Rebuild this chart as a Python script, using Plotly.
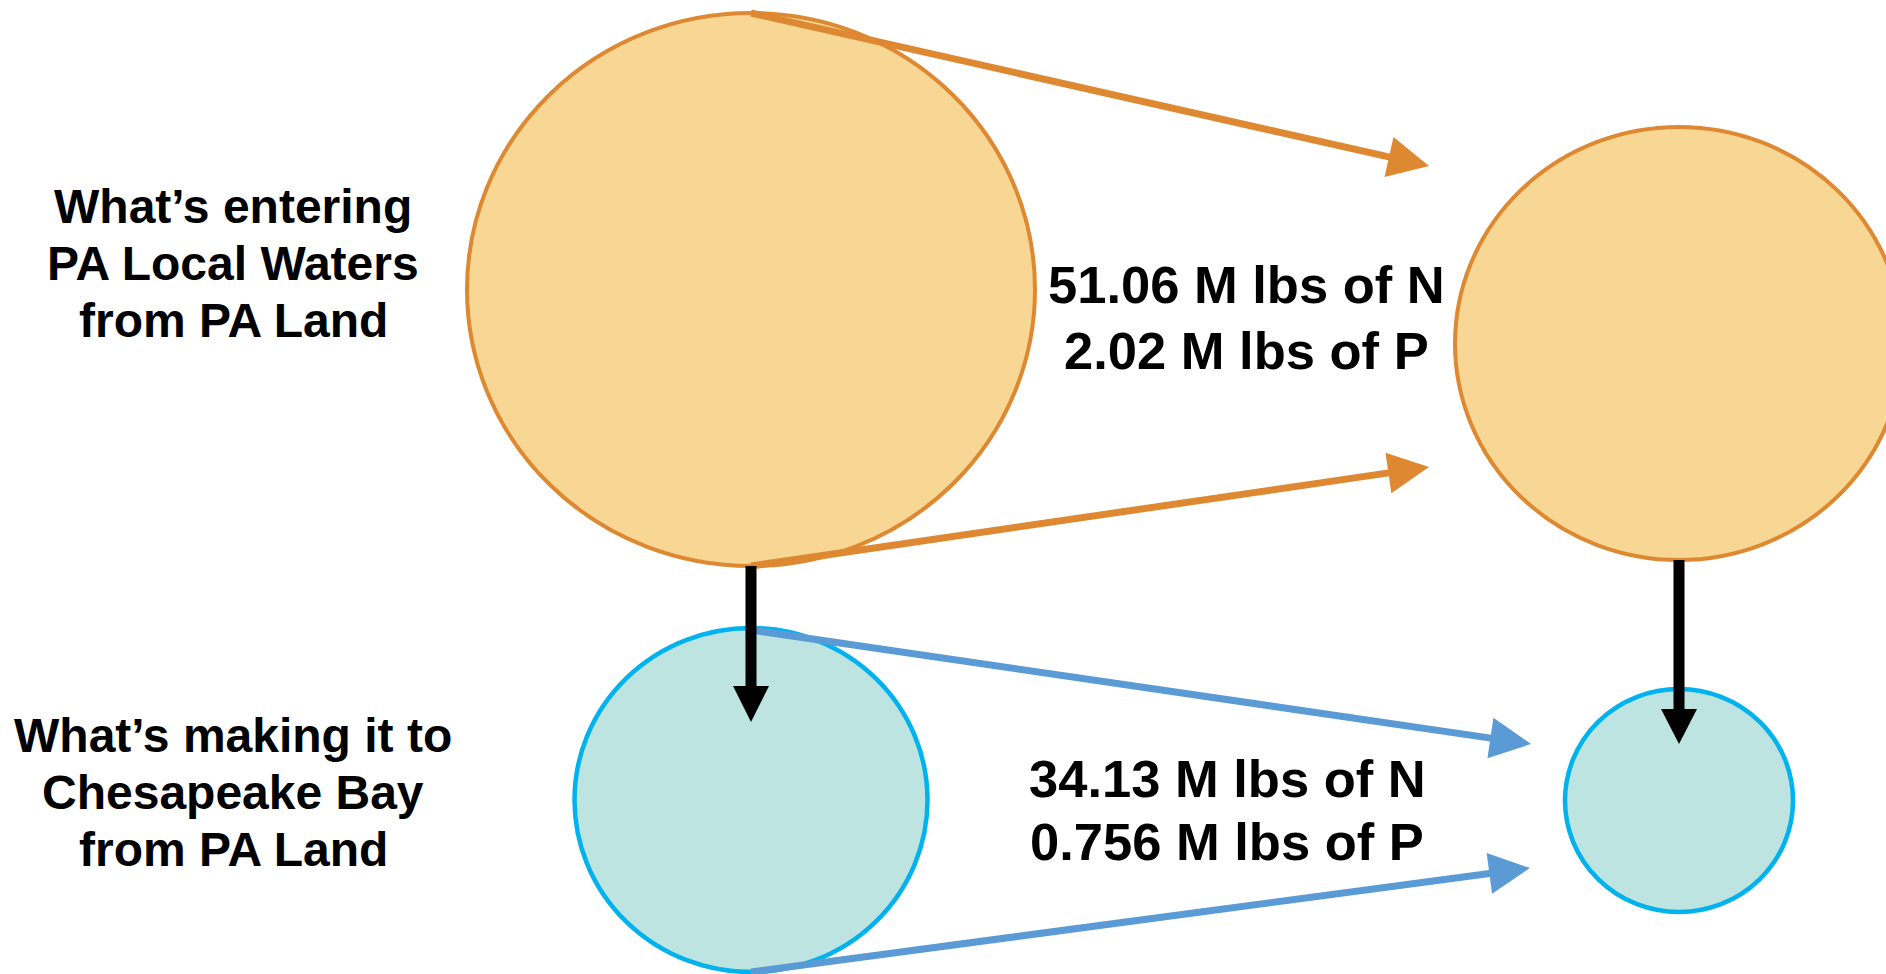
import plotly.graph_objects as go
import math

# ---- data ----
stage_labels = [
    ["What\u2019s entering", "PA Local Waters", "from PA Land"],
    ["What\u2019s making it to", "Chesapeake Bay", "from PA Land"],
]
nitrogen_mlbs = ["51.06", "34.13"]
phosphorus_mlbs = ["2.02", "0.756"]

# ---- geometry / style (pixel space) ----
W, H = 1886, 974
ORANGE_FILL = "#F8D693"
ORANGE_LINE = "#DE8932"
BLUE_FILL = "#BEE4E1"
BLUE_LINE = "#00B2EE"
BLUE_ARROW = "#5B9BD5"
FONT = "Liberation Sans, Arial, sans-serif"

# ellipses: (cx, cy, rx, ry, fill, line, width)
ellipses = [
    (751, 289.5, 284, 276.5, ORANGE_FILL, ORANGE_LINE, 4),
    (1679, 343.5, 224, 216.5, ORANGE_FILL, ORANGE_LINE, 4),
    (751, 800, 176.5, 172, BLUE_FILL, BLUE_LINE, 4.5),
    (1679, 800.5, 114, 111.5, BLUE_FILL, BLUE_LINE, 4.5),
]

# arrows: (x0, y0, tip_x, tip_y, color, shaft width, head length, head half width)
arrows = [
    (751, 13, 1429, 166, ORANGE_LINE, 7, 41, 20.5),
    (751, 566, 1429, 467, ORANGE_LINE, 7, 41, 20.5),
    (751, 630, 1531, 744, BLUE_ARROW, 7, 41, 20.5),
    (751, 972, 1530, 868, BLUE_ARROW, 7, 41, 20.5),
    (751, 566, 751, 722, "black", 11, 36, 18),
    (1679, 560, 1679, 744, "black", 11, 35, 18),
]

fig = go.Figure()
shapes = []
for cx, cy, rx, ry, fc, lc, lw in ellipses:
    shapes.append(dict(type="circle", xref="x", yref="y",
                       x0=cx - rx, x1=cx + rx, y0=cy - ry, y1=cy + ry,
                       fillcolor=fc, line=dict(color=lc, width=lw), layer="above"))

for x0, y0, tx, ty, col, sw, hl, hw in arrows:
    dx, dy = tx - x0, ty - y0
    L = math.hypot(dx, dy)
    ux, uy = dx / L, dy / L
    bx, by = tx - ux * hl, ty - uy * hl
    px, py = -uy, ux
    shapes.append(dict(type="line", xref="x", yref="y",
                       x0=x0, y0=y0, x1=bx + ux * 2, y1=by + uy * 2,
                       line=dict(color=col, width=sw), layer="above"))
    path = (f"M {tx},{ty} L {bx + px * hw},{by + py * hw} "
            f"L {bx - px * hw},{by - py * hw} Z")
    shapes.append(dict(type="path", xref="x", yref="y", path=path,
                       fillcolor=col, line=dict(color=col, width=0), layer="above"))

annotations = []
label_x = 233
label_rows = [[206, 263, 320], [735, 792, 849]]
for lines, ys in zip(stage_labels, label_rows):
    for txt, y in zip(lines, ys):
        annotations.append(dict(x=label_x, y=y, xref="x", yref="y", text=f"<b>{txt}</b>",
                                showarrow=False, xanchor="center", yanchor="middle",
                                font=dict(family=FONT, size=48, color="black")))

value_pos = [(1246, [284, 350]), (1227, [778, 841])]
for n, p, (vx, vys) in zip(nitrogen_mlbs, phosphorus_mlbs, value_pos):
    for txt, y in zip([f"{n} M lbs of N", f"{p} M lbs of P"], vys):
        annotations.append(dict(x=vx, y=y, xref="x", yref="y", text=f"<b>{txt}</b>",
                                showarrow=False, xanchor="center", yanchor="middle",
                                font=dict(family=FONT, size=52.5, color="black")))

fig.update_layout(
    width=W, height=H,
    margin=dict(l=0, r=0, t=0, b=0),
    paper_bgcolor="white", plot_bgcolor="white",
    xaxis=dict(range=[0, W], visible=False, fixedrange=True),
    yaxis=dict(range=[H, 0], visible=False, fixedrange=True),
    shapes=shapes, annotations=annotations, showlegend=False,
)
fig.write_html("out.html", config={"displayModeBar": False},
               post_script="document.body.style.margin='0';")
